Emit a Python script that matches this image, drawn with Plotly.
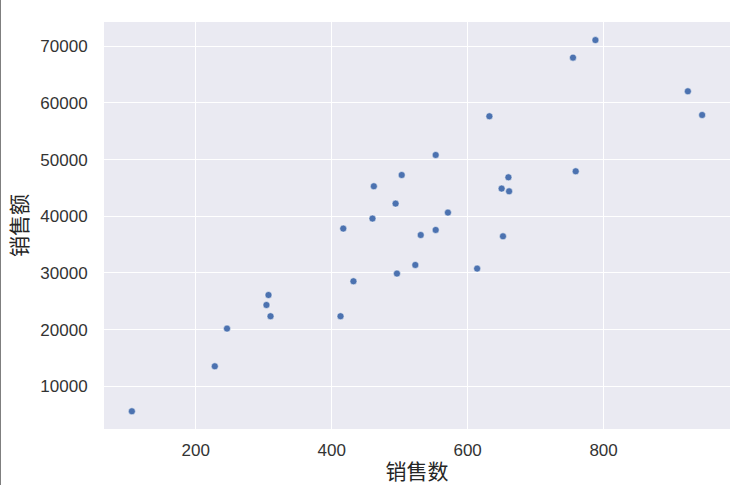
import plotly.graph_objects as go

sales_count = [106, 228, 246, 307, 304, 310, 413, 432, 417, 462, 460, 494, 503, 496, 523,
               531, 553, 553, 571, 614, 632, 652, 650, 660, 661, 759, 755, 788, 924, 945]
sales_amount = [5590, 13530, 20180, 26110, 24350, 22360, 22360, 28530, 37830, 45300, 39600,
                42240, 47290, 29890, 31410, 36700, 37590, 50820, 40650, 30770, 57650, 36470,
                44890, 46880, 44410, 47940, 68000, 71100, 62060, 57880]

x_ticks = [200, 400, 600, 800]
y_ticks = [10000, 20000, 30000, 40000, 50000, 60000, 70000]

fig = go.Figure(go.Scatter(
    x=sales_count, y=sales_amount, mode="markers",
    marker=dict(color="#4C72B0", size=7, line=dict(color="white", width=0.5)),
))

W, H = 748, 485
ml, mr, mt, mb = 104, 18, 22, 56
tick_font = dict(family="Liberation Sans, Arial, sans-serif", size=17, color="#333333")
title_font = dict(family="Noto Sans CJK SC, sans-serif", size=21, color="#262626")

fig.update_layout(
    width=W, height=H,
    margin=dict(l=ml, r=mr, t=mt, b=mb, autoexpand=False),
    paper_bgcolor="white", plot_bgcolor="#EAEAF2",
    showlegend=False,
    shapes=[dict(type="line", xref="paper", yref="paper",
                 x0=-(ml - 0.5) / (W - ml - mr), x1=-(ml - 0.5) / (W - ml - mr),
                 y0=-mb / (H - mt - mb), y1=1 + mt / (H - mt - mb),
                 line=dict(color="#7f7f7f", width=1))],
)
fig.update_xaxes(
    range=[65, 986], tickvals=x_ticks, ticktext=[str(v) for v in x_ticks],
    showgrid=True, gridcolor="white", gridwidth=1.3, zeroline=False, showline=False,
    ticks="outside", ticklen=6, tickcolor="rgba(0,0,0,0)", tickfont=tick_font,
    title=dict(text="销售数", font=title_font, standoff=6),
)
fig.update_yaxes(
    range=[2465, 74290], tickvals=y_ticks, ticktext=[str(v) for v in y_ticks],
    showgrid=True, gridcolor="white", gridwidth=1.3, zeroline=False, showline=False,
    ticks="outside", ticklen=12, tickcolor="rgba(0,0,0,0)", tickfont=tick_font,
    title=dict(text="销售额", font=title_font, standoff=6),
)

fig.write_html("out.html", config={"displayModeBar": False},
               post_script="document.body.style.margin='0';")
